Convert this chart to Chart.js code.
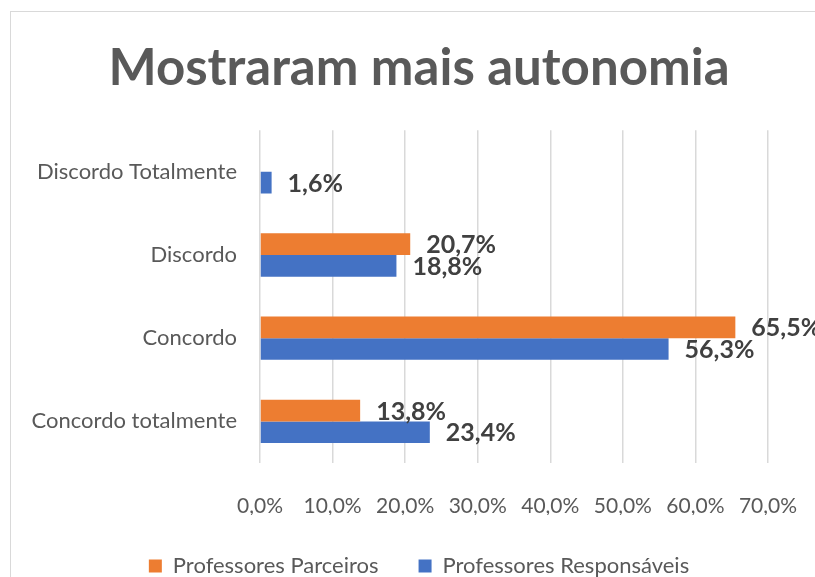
<!DOCTYPE html>
<html>
<head>
<meta charset="utf-8">
<script src="https://cdn.jsdelivr.net/npm/chart.js@4"></script>
<style>
    html, body { margin: 0; padding: 0; background: #fff; overflow: hidden; }
    #frame { position: absolute; left: 10px; top: 11px; width: 820px; height: 580px; border: 1px solid #d9d9d9; }
    #wrap { position: absolute; left: 0; top: 0; width: 815px; height: 577px; }
</style>
</head>
<body>
<div id="frame"></div>
<div id="wrap"><canvas id="chart" width="815" height="577"></canvas></div>
<script>
const categories = ['Discordo Totalmente', 'Discordo', 'Concordo', 'Concordo totalmente'];
const parceiros = [null, 20.7, 65.5, 13.8];
const responsaveis = [1.6, 18.8, 56.3, 23.4];
const seriesNames = ['Professores Parceiros', 'Professores Responsáveis'];
const xTicks = [0, 10, 20, 30, 40, 50, 60, 70];

const FONT = 'Lato, "Liberation Sans", sans-serif';
const pct = v => v.toFixed(1).replace('.', ',') + '%';

// draws the value next to each bar end
const valueLabels = {
    id: 'valueLabels',
    afterDatasetsDraw(chart) {
        const ctx = chart.ctx;
        ctx.save();
        ctx.font = 'bold 25px ' + FONT;
        ctx.fillStyle = '#404040';
        ctx.textAlign = 'left';
        ctx.textBaseline = 'middle';
        chart.data.datasets.forEach((ds, i) => {
            chart.getDatasetMeta(i).data.forEach((bar, j) => {
                const v = ds.data[j];
                if (v == null) return;
                ctx.fillText(pct(v), bar.x + 16, bar.y + 1);
            });
        });
        ctx.restore();
    }
};

new Chart(document.getElementById('chart'), {
    type: 'bar',
    data: {
        labels: categories,
        datasets: [
            { label: seriesNames[0], data: parceiros, backgroundColor: '#ED7D31' },
            { label: seriesNames[1], data: responsaveis, backgroundColor: '#4472C4' }
        ]
    },
    options: {
        indexAxis: 'y',
        responsive: false,
        animation: false,
        events: [],
        layout: { padding: { left: 23, right: 0, top: 0, bottom: -10 } },
        datasets: { bar: { categoryPercentage: 0.52, barPercentage: 1.0 } },
        scales: {
            x: {
                min: 0, max: 70,
                afterBuildTicks: s => { s.ticks = xTicks.map(v => ({ value: v })); },
                afterFit: s => { s.height = 52; },
                border: { display: false },
                grid: { color: '#d9d9d9', lineWidth: 1.5, tickLength: 16, tickColor: 'rgba(0,0,0,0)' },
                ticks: { color: '#595959', font: { family: FONT, size: 21 }, padding: 15, callback: v => pct(v) }
            },
            y: {
                afterFit: s => { s.width = 237; },
                border: { display: false },
                grid: { display: false },
                ticks: { color: '#595959', font: { family: FONT, size: 22 }, padding: 15 }
            },
            // empty strip on the right so the plot ends at 70% like the original
            yRight: {
                position: 'right',
                afterFit: s => { s.width = 47; },
                border: { display: false },
                grid: { display: false },
                ticks: { display: false }
            }
        },
        plugins: {
            title: {
                display: true,
                text: 'Mostraram mais autonomia',
                color: '#595959',
                font: { family: FONT, size: 51, weight: 'bold', lineHeight: 1.2 },
                padding: { top: 38, bottom: 31 }
            },
            legend: {
                position: 'bottom',
                labels: {
                    color: '#595959',
                    font: { family: FONT, size: 22 },
                    boxWidth: 13, boxHeight: 13,
                    padding: 40
                }
            },
            tooltip: { enabled: false }
        }
    },
    plugins: [valueLabels]
});
</script>
</body>
</html>
